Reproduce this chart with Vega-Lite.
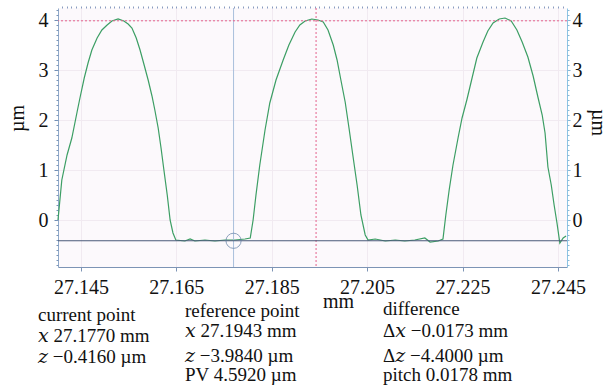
{
  "$schema": "https://vega.github.io/schema/vega-lite/v6.json",
  "width": 509,
  "height": 259,
  "autosize": "none",
  "padding": {"left": 58, "top": 8, "right": 42, "bottom": 118},
  "background": "white",
  "config": {
    "view": {"stroke": null, "fill": "#fcf9fc"},
    "font": "Liberation Serif, DejaVu Serif, Times New Roman, serif",
    "axis": {"labelFont": "Liberation Serif, DejaVu Serif, Times New Roman, serif", "titleFont": "Liberation Serif, DejaVu Serif, Times New Roman, serif", "labelFontSize": 20, "titleFontSize": 20, "labelColor": "#111", "titleColor": "#111", "titleFontWeight": "normal"},
    "text": {"font": "Liberation Serif, DejaVu Serif, Times New Roman, serif"}
  },
  "datasets": {
    "trace": [
      {"x":27.1402,"z":0.0},{"x":27.1410,"z":0.8},{"x":27.1421,"z":1.3},{"x":27.1431,"z":1.64},{"x":27.1442,"z":2.16},{"x":27.1448,"z":2.44},{"x":27.1457,"z":2.84},{"x":27.1465,"z":3.14},{"x":27.1473,"z":3.4},{"x":27.1484,"z":3.64},{"x":27.1494,"z":3.8},{"x":27.1505,"z":3.9},{"x":27.1515,"z":3.98},{"x":27.1528,"z":4.02},{"x":27.1540,"z":3.98},{"x":27.1549,"z":3.92},{"x":27.1557,"z":3.84},{"x":27.1566,"z":3.64},{"x":27.1574,"z":3.4},{"x":27.1582,"z":3.12},{"x":27.1591,"z":2.8},{"x":27.1599,"z":2.48},{"x":27.1605,"z":2.2},{"x":27.1612,"z":1.84},{"x":27.1618,"z":1.44},{"x":27.1624,"z":1.0},{"x":27.1631,"z":0.5},{"x":27.1637,"z":0.0},{"x":27.1643,"z":-0.26},{"x":27.1649,"z":-0.4},
      {"x":27.1668,"z":-0.42},{"x":27.1679,"z":-0.38},{"x":27.1689,"z":-0.42},{"x":27.1710,"z":-0.40},{"x":27.1731,"z":-0.42},{"x":27.1752,"z":-0.40},{"x":27.1773,"z":-0.40},{"x":27.1794,"z":-0.38},{"x":27.1805,"z":-0.36},
      {"x":27.1811,"z":0.0},{"x":27.1817,"z":0.5},{"x":27.1825,"z":1.1},{"x":27.1836,"z":1.8},{"x":27.1846,"z":2.34},{"x":27.1859,"z":2.8},{"x":27.1874,"z":3.2},{"x":27.1886,"z":3.5},{"x":27.1899,"z":3.76},{"x":27.1909,"z":3.9},{"x":27.1920,"z":3.98},{"x":27.1934,"z":4.02},{"x":27.1947,"z":4.0},{"x":27.1958,"z":3.96},{"x":27.1968,"z":3.8},{"x":27.1979,"z":3.5},{"x":27.1987,"z":3.2},{"x":27.1995,"z":2.8},{"x":27.2004,"z":2.36},{"x":27.2012,"z":1.84},{"x":27.2020,"z":1.3},{"x":27.2029,"z":0.7},{"x":27.2037,"z":0.1},{"x":27.2046,"z":-0.3},{"x":27.2052,"z":-0.4},
      {"x":27.2067,"z":-0.38},{"x":27.2088,"z":-0.42},{"x":27.2109,"z":-0.40},{"x":27.2129,"z":-0.42},{"x":27.2150,"z":-0.40},{"x":27.2171,"z":-0.36},{"x":27.2182,"z":-0.44},{"x":27.2199,"z":-0.42},{"x":27.2209,"z":-0.38},
      {"x":27.2215,"z":0.1},{"x":27.2222,"z":0.6},{"x":27.2230,"z":1.1},{"x":27.2241,"z":1.66},{"x":27.2249,"z":2.04},{"x":27.2259,"z":2.4},{"x":27.2270,"z":2.84},{"x":27.2280,"z":3.24},{"x":27.2293,"z":3.56},{"x":27.2303,"z":3.78},{"x":27.2314,"z":3.94},{"x":27.2327,"z":4.02},{"x":27.2339,"z":4.04},{"x":27.2352,"z":3.98},{"x":27.2364,"z":3.8},{"x":27.2375,"z":3.56},{"x":27.2387,"z":3.26},{"x":27.2398,"z":2.88},{"x":27.2408,"z":2.46},{"x":27.2417,"z":2.1},{"x":27.2423,"z":1.74},{"x":27.2429,"z":1.06},{"x":27.2436,"z":0.7},{"x":27.2442,"z":0.3},{"x":27.2448,"z":-0.06},{"x":27.2454,"z":-0.46},{"x":27.2461,"z":-0.36},{"x":27.2467,"z":-0.32}
    ],
    "readout": [
      {"x":27.13601,"z":-2.02,"t":"current point"},
      {"x":27.13601,"z":-2.44,"t":"𝑥 27.1770 mm"},
      {"x":27.13601,"z":-2.86,"t":"𝑧 −0.4160 µm"},
      {"x":27.16683,"z":-1.94,"t":"reference point"},
      {"x":27.16683,"z":-2.34,"t":"𝑥 27.1943 mm"},
      {"x":27.16683,"z":-2.84,"t":"𝑧 −3.9840 µm"},
      {"x":27.16683,"z":-3.22,"t":"PV 4.5920 µm"},
      {"x":27.20833,"z":-1.90,"t":"difference"},
      {"x":27.20833,"z":-2.34,"t":"Δ𝑥 −0.0173 mm"},
      {"x":27.20833,"z":-2.84,"t":"Δ𝑧 −4.4000 µm"},
      {"x":27.20833,"z":-3.22,"t":"pitch 0.0178 mm"}
    ]
  },
  "resolve": {"axis": {"x": "independent", "y": "independent"}},
  "layer": [
    {
      "data": {"name": "trace"},
      "mark": {"type": "line", "color": "#3c9e64", "strokeWidth": 1.2},
      "encoding": {
        "x": {"field": "x", "type": "quantitative", "scale": {"domain": [27.1402, 27.2469], "nice": false, "zero": false},
              "axis": {"values": [27.145, 27.165, 27.185, 27.205, 27.225, 27.245], "format": ".3f", "title": "mm", "titleX": 280, "titleY": 40, "titleBaseline": "alphabetic", "titleAlign": "center", "tickSize": 4, "labelPadding": 6, "tickColor": "#7d94b5", "domainColor": "#7d94b5", "grid": true, "gridColor": "#f1eaf1", "labelFlush": false}},
        "y": {"field": "z", "type": "quantitative", "scale": {"domain": [-0.94, 4.24], "nice": false, "zero": false},
              "axis": {"orient": "left", "values": [0, 1, 2, 3, 4], "title": "µm", "titleAngle": -90, "titleX": -35, "titleY": 110, "titleBaseline": "alphabetic", "titleAlign": "center", "tickSize": 4, "labelPadding": 6, "tickColor": "#6f8db4", "domainColor": "#8fa9c9", "grid": true, "gridColor": "#f1eaf1"}}
      }
    },
    {
      "data": {"values": [{"x": 27.1770}]},
      "mark": {"type": "rule", "color": "#a9bfdc", "strokeWidth": 1},
      "encoding": {
        "x": {"field": "x", "type": "quantitative", "scale": {"domain": [27.1402, 27.2469], "nice": false, "zero": false},
              "axis": {"tickCount": 100, "labels": false, "title": null, "domain": false, "grid": false, "tickSize": 2, "tickColor": "#8a9cc0"}}
      }
    },
    {
      "data": {"values": [{"x": 27.1943}]},
      "mark": {"type": "rule", "color": "#e4628c", "strokeWidth": 1, "strokeDash": [2, 2]},
      "encoding": {
        "x": {"field": "x", "type": "quantitative", "scale": {"domain": [27.1402, 27.2469], "nice": false, "zero": false}, "axis": null}
      }
    },
    {
      "data": {"values": [{"z": -0.416}]},
      "mark": {"type": "rule", "color": "#4a5878", "strokeWidth": 1.1},
      "encoding": {
        "y": {"field": "z", "type": "quantitative", "scale": {"domain": [-0.94, 4.24], "nice": false, "zero": false},
              "axis": {"orient": "right", "values": [0, 1, 2, 3, 4], "title": "µm", "titleAngle": 90, "titleX": 24, "titleY": 114, "titleBaseline": "alphabetic", "titleAlign": "center", "tickSize": 3, "labelPadding": 2, "tickColor": "#7aaed0", "domainColor": "#8cc4e4", "grid": false}}
      }
    },
    {
      "data": {"values": [{"z": 3.984}]},
      "mark": {"type": "rule", "color": "#e4628c", "strokeWidth": 1, "strokeDash": [2, 2]},
      "encoding": {
        "y": {"field": "z", "type": "quantitative", "scale": {"domain": [-0.94, 4.24], "nice": false, "zero": false},
              "axis": {"orient": "left", "tickCount": 50, "labels": false, "title": null, "domain": false, "grid": false, "tickSize": 2, "tickColor": "#7a94b8"}}
      }
    },
    {
      "data": {"values": [{"x": 27.1770, "z": -0.416}]},
      "mark": {"type": "point", "shape": "circle", "filled": false, "size": 230, "color": "#5f7ea4", "strokeWidth": 1},
      "encoding": {
        "x": {"field": "x", "type": "quantitative", "scale": {"domain": [27.1402, 27.2469], "nice": false, "zero": false}, "axis": null},
        "y": {"field": "z", "type": "quantitative", "scale": {"domain": [-0.94, 4.24], "nice": false, "zero": false},
              "axis": {"orient": "right", "tickCount": 50, "labels": false, "title": null, "domain": false, "grid": false, "tickSize": 2, "tickColor": "#8ab8d8"}}
      }
    },
    {
      "data": {"name": "readout"},
      "mark": {"type": "text", "align": "left", "baseline": "alphabetic", "fontSize": 19, "color": "#111", "clip": false},
      "encoding": {
        "x": {"field": "x", "type": "quantitative", "scale": {"domain": [27.1402, 27.2469], "nice": false, "zero": false}, "axis": null},
        "y": {"field": "z", "type": "quantitative", "scale": {"domain": [-0.94, 4.24], "nice": false, "zero": false}, "axis": null},
        "text": {"field": "t", "type": "nominal"}
      }
    }
  ]
}
